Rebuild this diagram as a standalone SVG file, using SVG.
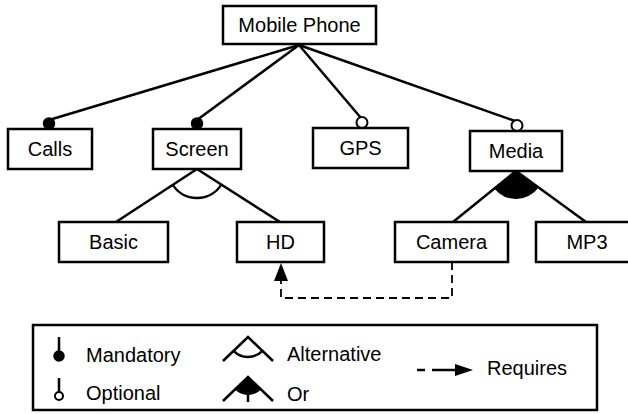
<svg xmlns="http://www.w3.org/2000/svg" width="628" height="414" viewBox="0 0 628 414">
<style>
.box{fill:#fff;stroke:#000;stroke-width:2.5}
.lbl{font-family:"Liberation Sans",Arial,sans-serif;font-size:20px;fill:#000;text-anchor:middle}
.lg{font-family:"Liberation Sans",Arial,sans-serif;font-size:20px;fill:#000}
.ln{stroke:#000;stroke-width:2.5;fill:none}
.man{fill:#000;stroke:#000;stroke-width:1.5}
.opt{fill:#fff;stroke:#000;stroke-width:2}
.dash{stroke:#000;stroke-width:1.8;fill:none;stroke-dasharray:8,5}
</style>
<rect width="628" height="414" fill="#fff"/>
<g id="connectors">
  <line class="ln" x1="299" y1="45" x2="49" y2="120"/>
  <line class="ln" x1="299" y1="45" x2="197" y2="120"/>
  <line class="ln" x1="299" y1="45" x2="361" y2="118"/>
  <line class="ln" x1="299" y1="45" x2="515" y2="121"/>
  <circle class="man" cx="49" cy="123.5" r="5.5"/>
  <circle class="man" cx="197" cy="123.5" r="5.5"/>
  <circle class="opt" cx="362" cy="122.5" r="5.5"/>
  <circle class="opt" cx="517" cy="125.5" r="5.5"/>
  <line class="ln" x1="197" y1="169" x2="116" y2="222"/>
  <line class="ln" x1="197" y1="169" x2="280" y2="222"/>
  <path class="ln" d="M172.7,184.9 A29,29 0 0 0 221.4,184.6"/>
  <line class="ln" x1="516" y1="171" x2="453" y2="222"/>
  <line class="ln" x1="516" y1="171" x2="586" y2="222"/>
  <path d="M516,171 L494.2,188.6 A28,28 0 0 0 538.6,187.5 Z" fill="#000"/>
  <path class="dash" d="M452,262 V298 H281 V280"/>
  <polygon points="281,263 274,281 288,281" fill="#000"/>
</g>
<g id="n-mobile"><rect class="box" x="223" y="6" width="153" height="38"/><text class="lbl" x="299.5" y="32">Mobile Phone</text></g>
<g id="n-calls"><rect class="box" x="8" y="129" width="84" height="40"/><text class="lbl" x="50" y="156">Calls</text></g>
<g id="n-screen"><rect class="box" x="153" y="129" width="88" height="40"/><text class="lbl" x="197" y="156">Screen</text></g>
<g id="n-gps"><rect class="box" x="313" y="128" width="95" height="40"/><text class="lbl" x="360.5" y="155">GPS</text></g>
<g id="n-media"><rect class="box" x="470" y="131" width="92" height="40"/><text class="lbl" x="516" y="158">Media</text></g>
<g id="n-basic"><rect class="box" x="59" y="222" width="109" height="40"/><text class="lbl" x="113.5" y="249">Basic</text></g>
<g id="n-hd"><rect class="box" x="237" y="222" width="87" height="40"/><text class="lbl" x="280.5" y="249">HD</text></g>
<g id="n-camera"><rect class="box" x="395" y="222" width="113" height="40"/><text class="lbl" x="451.5" y="249">Camera</text></g>
<g id="n-mp3"><rect class="box" x="536" y="222" width="104" height="40"/><text class="lbl" x="587" y="249">MP3</text></g>
<g id="legend">
  <rect class="box" x="33" y="325" width="564" height="85"/>
  <line class="ln" x1="59" y1="337" x2="59" y2="352"/>
  <circle class="man" cx="59" cy="356" r="5"/>
  <text class="lg" x="86" y="362">Mandatory</text>
  <line class="ln" x1="59" y1="378" x2="59" y2="392"/>
  <circle class="opt" cx="59" cy="396" r="4"/>
  <text class="lg" x="86" y="400">Optional</text>
  <polyline class="ln" points="223,361 248,337 273,361"/>
  <path class="ln" d="M233.6,350.8 A20,20 0 0 0 262.4,350.8"/>
  <text class="lg" x="287" y="361">Alternative</text>
  <polyline class="ln" points="223,401 248,377 273,401"/>
  <path d="M248,377 L235,389.5 A18,18 0 0 0 261,389.5 Z" fill="#000"/>
  <line class="ln" x1="248" y1="393" x2="248" y2="402"/>
  <text class="lg" x="287" y="401">Or</text>
  <line class="ln" x1="417" y1="370" x2="425" y2="370"/>
  <line class="ln" x1="432" y1="370" x2="457" y2="370"/>
  <polygon points="455,364 473,370 455,376" fill="#000"/>
  <text class="lg" x="487" y="375">Requires</text>
</g>
</svg>
